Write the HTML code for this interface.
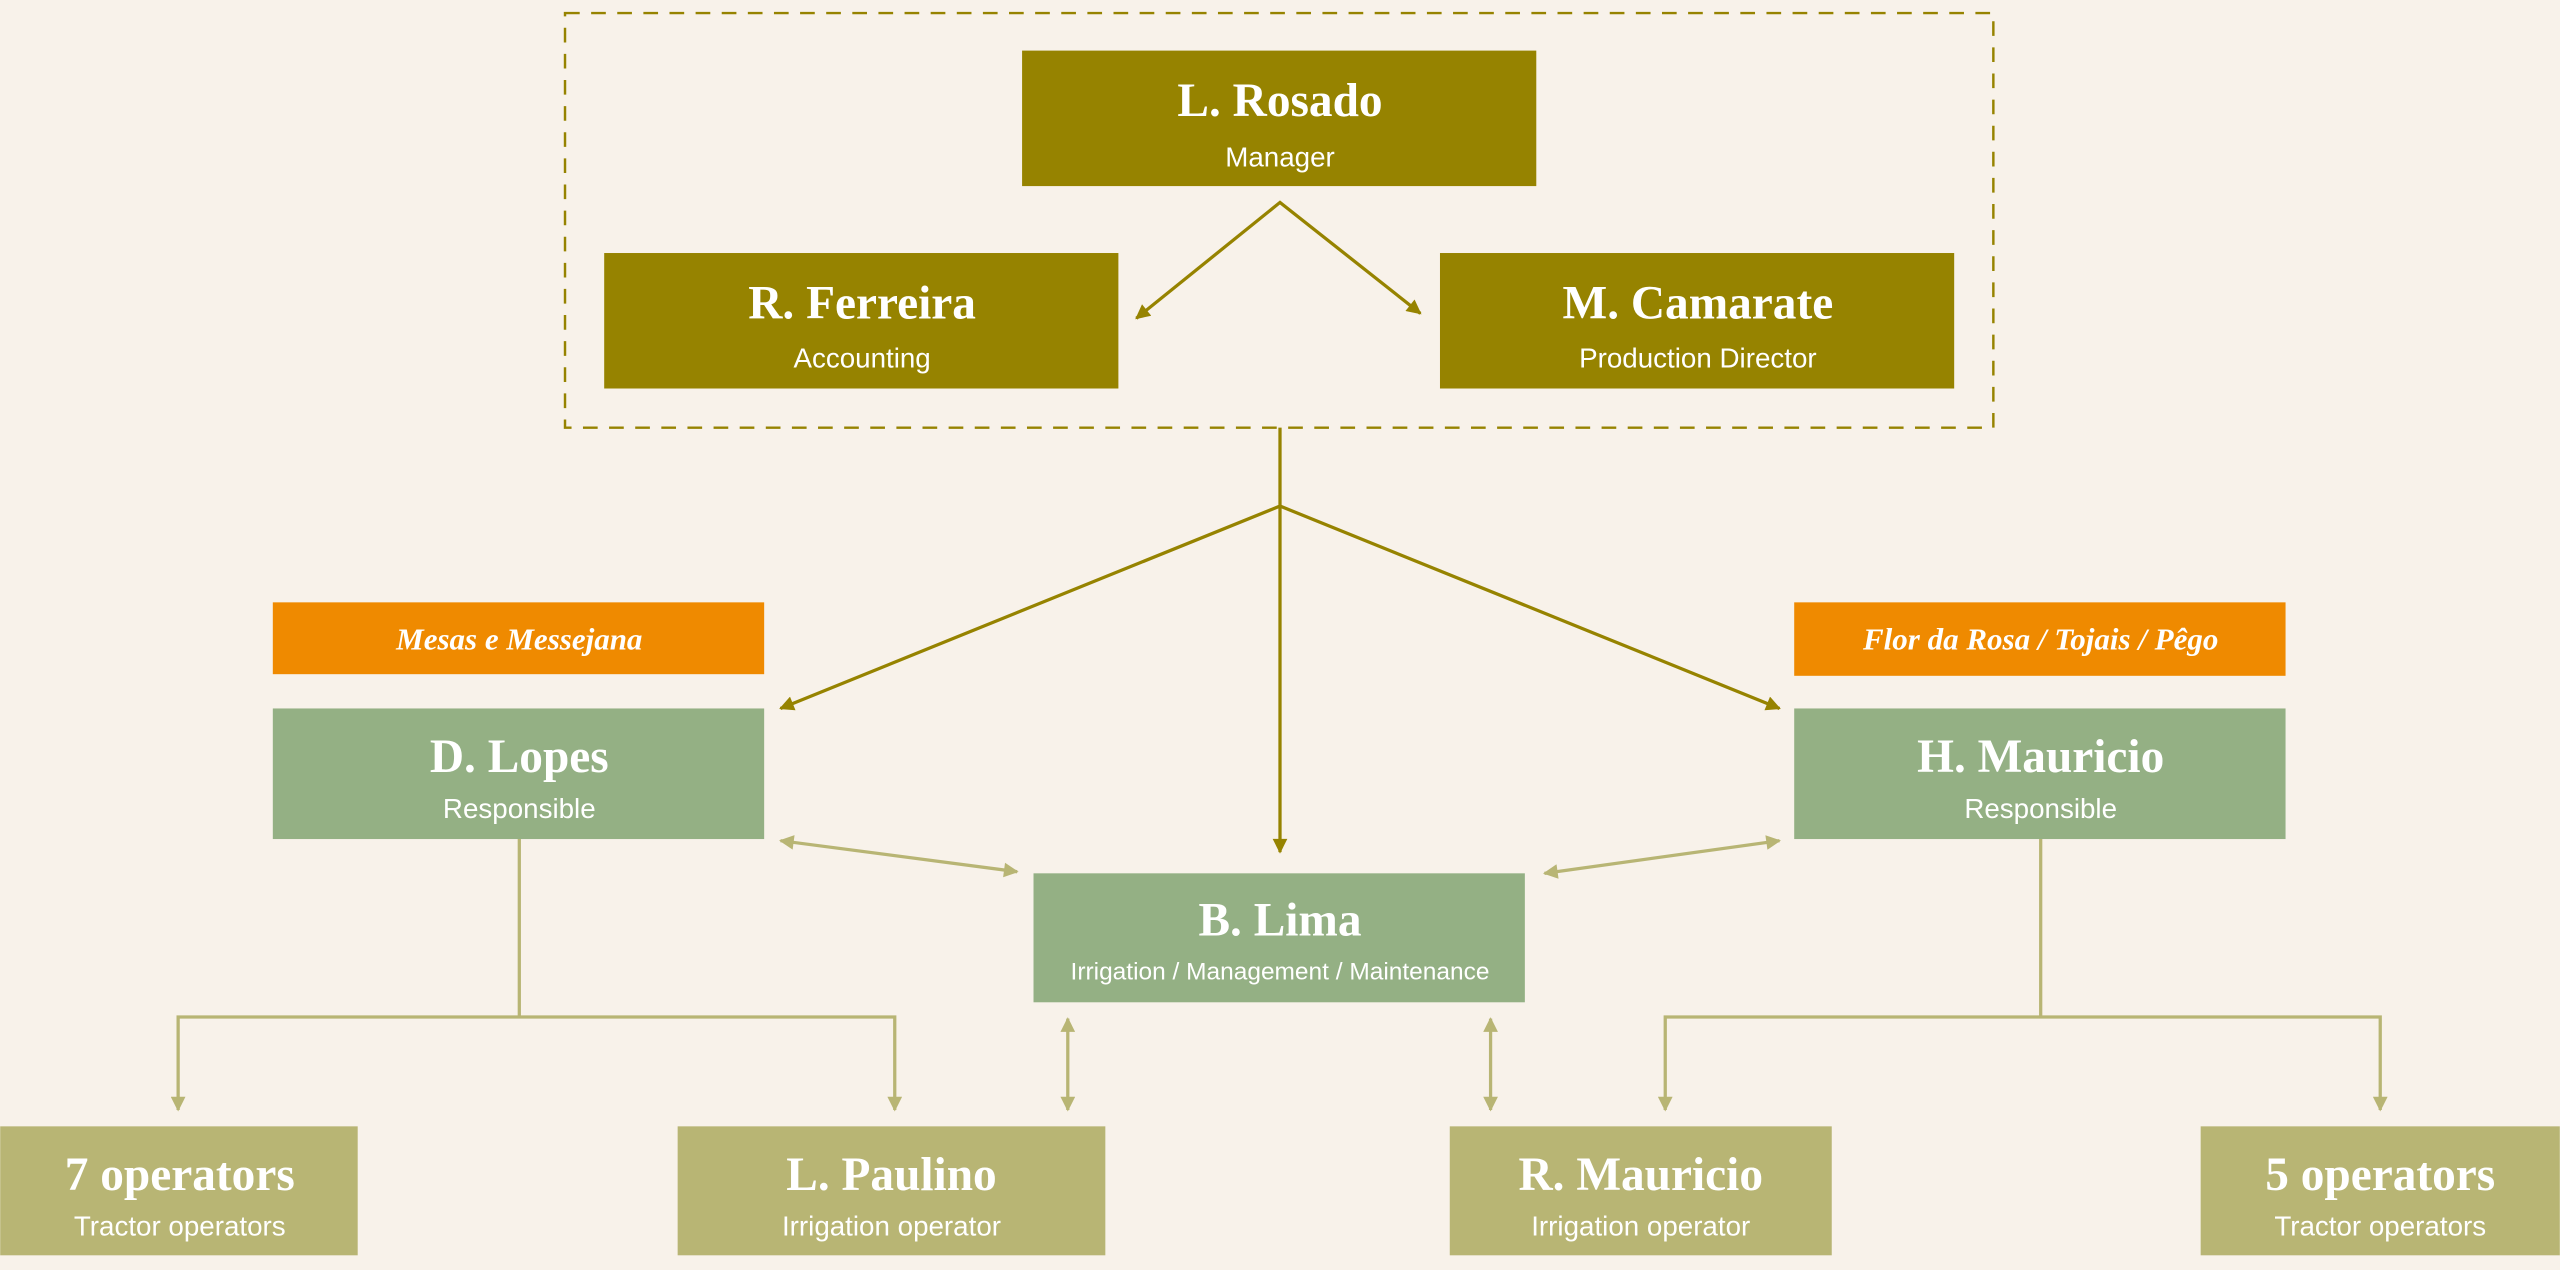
<!DOCTYPE html>
<html><head><meta charset="utf-8"><style>
html,body{margin:0;padding:0;background:#f8f2ea;}
svg{display:block;}
.t{font-family:"Liberation Serif",serif;font-weight:bold;fill:#fff;font-size:29px;text-anchor:middle;}
.s{font-family:"Liberation Sans",sans-serif;fill:#fff;font-size:17px;text-anchor:middle;}
.o{font-family:"Liberation Serif",serif;font-weight:bold;font-style:italic;fill:#fff;font-size:19px;text-anchor:middle;}
</style></head><body>
<svg width="2560" height="1270" viewBox="0 0 1568 778" xmlns="http://www.w3.org/2000/svg">
<defs>
<marker id="ad" viewBox="0 0 10 10" refX="9" refY="5" markerWidth="10" markerHeight="9" orient="auto-start-reverse" markerUnits="userSpaceOnUse"><path d="M0,0L10,5L0,10z" fill="#968300"/></marker>
<marker id="al" viewBox="0 0 10 10" refX="9" refY="5" markerWidth="10" markerHeight="9" orient="auto-start-reverse" markerUnits="userSpaceOnUse"><path d="M0,0L10,5L0,10z" fill="#b8b574"/></marker>
</defs>
<rect width="1568" height="778" fill="#f8f2ea"/>
<rect x="346" y="8" width="875" height="254" fill="none" stroke="#968300" stroke-width="1.5" stroke-dasharray="9,7"/>
<g fill="#968300">
<rect x="626" y="31" width="315" height="83"/>
<rect x="370" y="155" width="315" height="83"/>
<rect x="882" y="155" width="315" height="83"/>
</g>
<g fill="#ef8a00">
<rect x="167" y="369" width="301" height="44"/>
<rect x="1099" y="369" width="301" height="45"/>
</g>
<g fill="#94b084">
<rect x="167" y="434" width="301" height="80"/>
<rect x="1099" y="434" width="301" height="80"/>
<rect x="633" y="535" width="301" height="79"/>
</g>
<g fill="#b8b574">
<rect x="0" y="690" width="219" height="79"/>
<rect x="415" y="690" width="262" height="79"/>
<rect x="888" y="690" width="234" height="79"/>
<rect x="1348" y="690" width="220" height="79"/>
</g>
<g stroke="#968300" stroke-width="2" fill="none">
<polyline points="696,195 784,124 870,192" marker-start="url(#ad)" marker-end="url(#ad)"/>
<polyline points="784,262 784,310 478,434" marker-end="url(#ad)"/>
<line x1="784" y1="310" x2="784" y2="522" marker-end="url(#ad)"/>
<line x1="784" y1="310" x2="1090" y2="434" marker-end="url(#ad)"/>
</g>
<g stroke="#b8b574" stroke-width="2" fill="none">
<line x1="478" y1="515" x2="623" y2="534" marker-start="url(#al)" marker-end="url(#al)"/>
<line x1="946" y1="535" x2="1090" y2="515" marker-start="url(#al)" marker-end="url(#al)"/>
<line x1="654" y1="624" x2="654" y2="680" marker-start="url(#al)" marker-end="url(#al)"/>
<line x1="913" y1="624" x2="913" y2="680" marker-start="url(#al)" marker-end="url(#al)"/>
<line x1="318" y1="514" x2="318" y2="623"/>
<polyline points="109,680 109,623 548,623 548,680" marker-start="url(#al)" marker-end="url(#al)"/>
<line x1="1250" y1="514" x2="1250" y2="623"/>
<polyline points="1020,680 1020,623 1458,623 1458,680" marker-start="url(#al)" marker-end="url(#al)"/>
</g>
<text class="t" x="784" y="71">L. Rosado</text><text class="s" x="784" y="102">Manager</text>
<text class="t" x="528" y="195">R. Ferreira</text><text class="s" x="528" y="225">Accounting</text>
<text class="t" x="1040" y="195">M. Camarate</text><text class="s" x="1040" y="225">Production Director</text>
<text class="o" x="318" y="398">Mesas e Messejana</text>
<text class="o" x="1250" y="398">Flor da Rosa / Tojais / Pêgo</text>
<text class="t" x="318" y="473">D. Lopes</text><text class="s" x="318" y="501">Responsible</text>
<text class="t" x="1250" y="473">H. Mauricio</text><text class="s" x="1250" y="501">Responsible</text>
<text class="t" x="784" y="573">B. Lima</text><text class="s" x="784" y="600" style="font-size:15px">Irrigation / Management / Maintenance</text>
<text class="t" x="110" y="729">7 operators</text><text class="s" x="110" y="757">Tractor operators</text>
<text class="t" x="546" y="729">L. Paulino</text><text class="s" x="546" y="757">Irrigation operator</text>
<text class="t" x="1005" y="729">R. Mauricio</text><text class="s" x="1005" y="757">Irrigation operator</text>
<text class="t" x="1458" y="729">5 operators</text><text class="s" x="1458" y="757">Tractor operators</text>
</svg>
</body></html>
